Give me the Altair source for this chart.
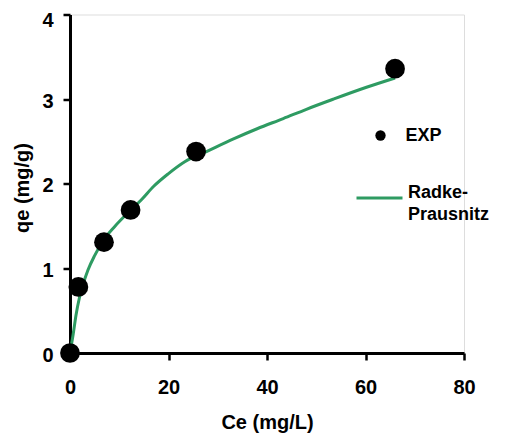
import altair as alt
import pandas as pd

# Experimental data
ce_exp = [0, 1.7, 6.9, 12.3, 25.6, 66.0]
qe_exp = [0, 0.78, 1.31, 1.69, 2.38, 3.36]

# Radke-Prausnitz fitted curve
ce_fit = [0, 0.67, 1.2, 1.9, 2.6, 3.65, 5, 7, 9, 12, 14.5, 17, 20, 23.3, 27.7,
          33.2, 38, 43.3, 48, 53.5, 60.2, 66]
qe_fit = [0, 0.23, 0.44, 0.65, 0.80, 0.98, 1.15, 1.35, 1.49, 1.67, 1.81, 1.97,
          2.12, 2.26, 2.38, 2.53, 2.65, 2.77, 2.88, 3.00, 3.14, 3.25]

x_ticks = [0, 20, 40, 60, 80]
y_ticks = [0, 1, 2, 3, 4]

exp_df = pd.DataFrame({"Ce": ce_exp, "qe": qe_exp, "series": ["EXP"] * len(ce_exp)})
fit_df = pd.DataFrame({"Ce": ce_fit, "qe": qe_fit, "model": ["Radke-Prausnitz"] * len(ce_fit)})

FONT = "Liberation Sans"
GREEN = "#2e9b62"

xscale = alt.Scale(domain=[0, 80], nice=False, zero=True)
yscale = alt.Scale(domain=[0, 4], nice=False, zero=True)

x_axis = alt.Axis(
    title="Ce (mg/L)", values=x_ticks, grid=False,
    domainWidth=3, domainColor="black", tickWidth=2.5, tickColor="black", tickSize=7,
    labelFont=FONT, labelFontSize=20, labelFontWeight="bold", labelColor="black",
    labelPadding=17, labelFlush=False,
    titleFont=FONT, titleFontSize=20, titleFontWeight="bold", titleColor="black",
    titleX=197, titleY=75, titleBaseline="alphabetic", titleAlign="center",
)
y_axis = alt.Axis(
    title="qe (mg/g)", values=y_ticks, grid=False,
    domainWidth=3, domainColor="black", tickWidth=2.5, tickColor="black", tickSize=7,
    labelFont=FONT, labelFontSize=20, labelFontWeight="bold", labelColor="black",
    labelPadding=10, labelFlush=False,
    labelOffset={"condition": {"test": "datum.value === 4", "value": 6}, "value": 2},
    titleFont=FONT, titleFontSize=20, titleFontWeight="bold", titleColor="black",
    titleX=-48, titleY=173, titleAngle=270, titleBaseline="middle", titleAlign="center",
)

line = alt.Chart(fit_df).mark_line(strokeWidth=3, clip=False, interpolate="monotone").encode(
    x=alt.X("Ce:Q", scale=xscale, axis=x_axis),
    y=alt.Y("qe:Q", scale=yscale, axis=y_axis),
    stroke=alt.Stroke(
        "model:N",
        scale=alt.Scale(domain=["Radke-Prausnitz"], range=[GREEN]),
        legend=alt.Legend(
            title=None, orient="none", legendX=285, legendY=159, padding=0,
            symbolSize=2116, symbolStrokeWidth=3, symbolType="stroke",
            labelOffset=4, labelFont=FONT, labelFontSize=18, labelFontWeight="bold",
            labelColor="black", labelBaseline="alphabetic", labelLimit=300,
            labelExpr="datum.label == 'Radke-Prausnitz' ? ['Radke-', 'Prausnitz'] : datum.label",
        ),
    ),
    order="Ce:Q",
)

points = alt.Chart(exp_df).mark_circle(size=390, opacity=1, clip=False).encode(
    x=alt.X("Ce:Q", scale=xscale, axis=x_axis),
    y=alt.Y("qe:Q", scale=yscale, axis=y_axis),
    fill=alt.Fill(
        "series:N",
        scale=alt.Scale(domain=["EXP"], range=["black"]),
        legend=alt.Legend(
            title=None, orient="none", legendX=301.5, legendY=112, padding=0,
            symbolSize=107, symbolType="circle", symbolStrokeWidth=0,
            labelOffset=16, labelFont=FONT, labelFontSize=18, labelFontWeight="bold",
            labelColor="black",
        ),
    ),
)

chart = (
    alt.layer(line, points)
    .properties(
        width=394, height=338.5,
        autosize=alt.AutoSizeParams(type="none"),
        padding={"left": 62, "top": 6.5, "right": 33, "bottom": 85},
        background="white",
    )
    .configure_view(stroke=None)
    .configure(style={"guide-label": {"lineHeight": 22}})
)

chart.save("out.html", embed_options={"renderer": "svg", "actions": False})
